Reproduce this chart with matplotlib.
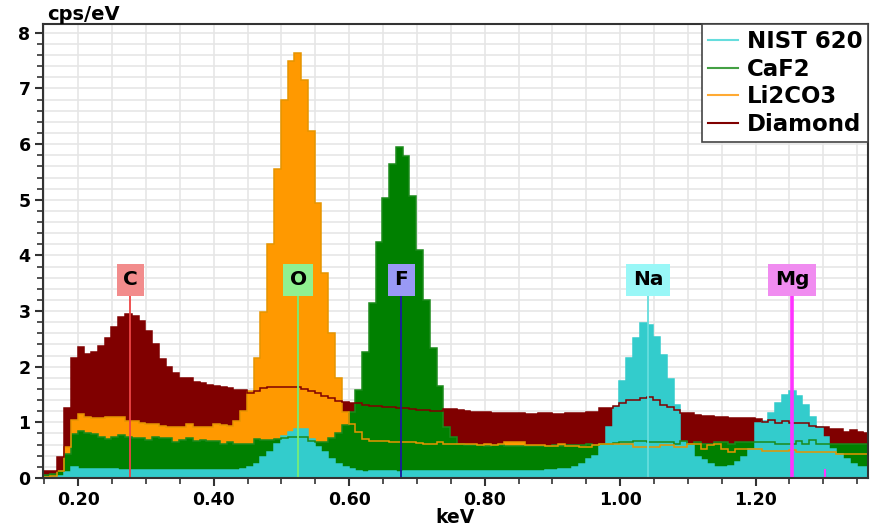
import matplotlib
matplotlib.use('Agg')
import matplotlib.pyplot as plt
from matplotlib.lines import Line2D
from matplotlib.ticker import MultipleLocator, FormatStrFormatter
import numpy as np

# spectrum channels: 10 eV wide, first edge at 0.149 keV
bin_start = 0.149
bin_width = 0.01

nist620 = [0.01, 0.02, 0.04, 0.11, 0.19, 0.17, 0.16, 0.16, 0.17, 0.16,
           0.16, 0.14, 0.15, 0.14, 0.14, 0.14, 0.15, 0.14, 0.14, 0.14,
           0.14, 0.14, 0.14, 0.14, 0.14, 0.14, 0.14, 0.14, 0.15, 0.16,
           0.19, 0.25, 0.37, 0.47, 0.61, 0.76, 0.83, 0.88, 0.88, 0.70,
           0.56, 0.47, 0.35, 0.26, 0.20, 0.16, 0.13, 0.11, 0.12, 0.12,
           0.12, 0.12, 0.11, 0.12, 0.12, 0.12, 0.12, 0.13, 0.12, 0.12,
           0.12, 0.12, 0.12, 0.12, 0.12, 0.12, 0.12, 0.13, 0.12, 0.12,
           0.12, 0.13, 0.13, 0.13, 0.14, 0.14, 0.16, 0.16, 0.19, 0.25,
           0.34, 0.40, 0.60, 0.91, 1.28, 1.74, 2.15, 2.51, 2.78, 2.75,
           2.54, 2.21, 1.78, 1.32, 0.65, 0.59, 0.38, 0.32, 0.25, 0.20,
           0.20, 0.21, 0.29, 0.38, 0.53, 0.98, 1.02, 1.16, 1.34, 1.49,
           1.56, 1.48, 1.31, 1.09, 0.92, 0.74, 0.53, 0.44, 0.35, 0.25,
           0.20, 0.20]

caf2 = [0.05, 0.07, 0.13, 0.44, 0.79, 0.85, 0.80, 0.79, 0.74, 0.70,
        0.73, 0.77, 0.74, 0.71, 0.72, 0.68, 0.73, 0.72, 0.71, 0.65,
        0.69, 0.71, 0.67, 0.68, 0.67, 0.67, 0.62, 0.65, 0.61, 0.61,
        0.61, 0.70, 0.68, 0.68, 0.70, 0.72, 0.74, 0.74, 0.74, 0.67,
        0.65, 0.65, 0.71, 0.80, 0.95, 1.19, 1.58, 2.26, 3.14, 4.25,
        5.04, 5.64, 5.94, 5.78, 5.07, 4.10, 3.20, 2.34, 1.65, 0.92,
        0.74, 0.62, 0.60, 0.59, 0.59, 0.58, 0.59, 0.59, 0.58, 0.58,
        0.57, 0.58, 0.58, 0.58, 0.58, 0.59, 0.58, 0.59, 0.60, 0.60,
        0.61, 0.60, 0.61, 0.61, 0.63, 0.65, 0.65, 0.67, 0.67, 0.65,
        0.65, 0.65, 0.65, 0.62, 0.67, 0.61, 0.64, 0.61, 0.61, 0.65,
        0.65, 0.61, 0.65, 0.65, 0.65, 0.64, 0.64, 0.65, 0.62, 0.62,
        0.62, 0.67, 0.62, 0.68, 0.62, 0.62, 0.62, 0.62, 0.62, 0.62,
        0.62, 0.62]

li2co3 = [0.02, 0.03, 0.12, 0.56, 1.04, 1.15, 1.10, 1.07, 1.07, 1.09,
          1.10, 1.10, 1.03, 1.03, 0.98, 0.97, 0.97, 0.94, 0.92, 0.91,
          0.92, 0.97, 0.92, 0.92, 0.91, 0.97, 0.95, 0.94, 1.03, 1.21,
          1.56, 2.16, 2.99, 4.20, 5.55, 6.79, 7.49, 7.63, 7.15, 6.24,
          4.94, 3.68, 2.61, 1.80, 1.19, 0.97, 0.83, 0.70, 0.67, 0.67,
          0.66, 0.65, 0.65, 0.64, 0.64, 0.63, 0.61, 0.61, 0.64, 0.62,
          0.62, 0.62, 0.61, 0.61, 0.60, 0.61, 0.60, 0.61, 0.64, 0.64,
          0.64, 0.60, 0.59, 0.59, 0.58, 0.58, 0.62, 0.58, 0.57, 0.56,
          0.56, 0.60, 0.61, 0.61, 0.61, 0.61, 0.61, 0.56, 0.56, 0.56,
          0.56, 0.59, 0.59, 0.55, 0.55, 0.61, 0.61, 0.52, 0.59, 0.61,
          0.52, 0.46, 0.52, 0.53, 0.53, 0.52, 0.49, 0.49, 0.49, 0.49,
          0.50, 0.47, 0.47, 0.47, 0.47, 0.47, 0.46, 0.43, 0.43, 0.43,
          0.43, 0.43]

diamond = [0.13, 0.13, 0.37, 1.25, 2.16, 2.36, 2.22, 2.26, 2.37, 2.51,
           2.71, 2.89, 2.94, 2.92, 2.83, 2.65, 2.40, 2.14, 2.00, 1.88,
           1.79, 1.79, 1.73, 1.70, 1.68, 1.66, 1.63, 1.61, 1.59, 1.58,
           1.53, 1.56, 1.61, 1.63, 1.64, 1.64, 1.64, 1.63, 1.60, 1.57,
           1.53, 1.47, 1.43, 1.38, 1.36, 1.34, 1.34, 1.31, 1.29, 1.29,
           1.28, 1.27, 1.26, 1.25, 1.24, 1.23, 1.22, 1.21, 1.21, 1.24,
           1.24, 1.22, 1.20, 1.19, 1.18, 1.18, 1.17, 1.17, 1.16, 1.16,
           1.16, 1.15, 1.15, 1.16, 1.16, 1.15, 1.15, 1.16, 1.16, 1.17,
           1.19, 1.19, 1.25, 1.25, 1.30, 1.34, 1.41, 1.41, 1.43, 1.46,
           1.40, 1.32, 1.27, 1.22, 1.16, 1.16, 1.14, 1.12, 1.12, 1.10,
           1.09, 1.07, 1.08, 1.07, 1.07, 1.06, 1.01, 1.04, 0.99, 1.03,
           0.98, 0.98, 0.98, 0.94, 0.91, 0.91, 0.88, 0.88, 0.83, 0.86,
           0.83, 0.80]

series_names = ['NIST 620', 'CaF2', 'Li2CO3', 'Diamond']
fill_colors = ['#33cccc', '#008000', '#ff9900', '#800000']
line_colors = ['#33cccc', '#1b8a1b', '#e69500', '#800000']
legend_colors = ['#66dddd', '#44a044', '#ffaa33', '#800000']

# element markers (keV)
elements = ['C', 'O', 'F', 'Na', 'Mg']
element_kev = [0.277, 0.525, 0.677, 1.041, 1.254]
line_cols = ['#ee4444', '#77ee77', '#1a1aa0', '#66dddd', '#ff33ff']
box_cols = ['#f28c8c', '#90f090', '#9999f5', '#99f7f7', '#f08cf0']
mg_kb = 1.302

spectra = [nist620, caf2, li2co3, diamond]
edges = bin_start + bin_width * np.arange(len(nist620) + 1)

fig = plt.figure(figsize=(8.73, 5.29), dpi=100)
ax = fig.add_axes([0.0493, 0.0964, 0.9450, 0.8573])

# filled spectra, back to front
for k in [3, 2, 1, 0]:
    ax.stairs(spectra[k], edges, fill=True, color=fill_colors[k], zorder=2 + (3 - k) * 0.1)
# outlines of every spectrum on top of all fills
for k in [0, 1, 2, 3]:
    ax.stairs(spectra[k], edges, baseline=None, color=line_colors[k], lw=1.1, zorder=3)

# element lines and labels
for name, e, lc, bc in zip(elements, element_kev, line_cols, box_cols):
    lw = 2.6 if name == 'Mg' else 1.3
    ax.plot([e, e], [0, 3.31], color=lc, lw=lw, zorder=4)
    ax.text(e, 3.56, name, ha='center', va='center', fontsize=14.5, weight='bold',
            bbox=dict(boxstyle='square,pad=0.32', fc=bc, ec='none'), zorder=5)
ax.plot([mg_kb, mg_kb], [0, 0.15], color='#ff33ff', lw=1.5, zorder=4)

ax.set_xlim(0.148, 1.366)
ax.set_ylim(0, 8.15)

ax.xaxis.set_major_locator(MultipleLocator(0.2))
ax.xaxis.set_minor_locator(MultipleLocator(0.05))
ax.xaxis.set_major_formatter(FormatStrFormatter('%.2f'))
ax.yaxis.set_major_locator(MultipleLocator(1))
ax.yaxis.set_minor_locator(MultipleLocator(0.2))

ax.grid(True, which='both', color='#e6e6e6', lw=1.2, zorder=0)
ax.set_axisbelow(True)

ax.tick_params(axis='both', which='major', direction='out', length=6, width=1.5,
               labelsize=12.5, color='#333333', pad=3)
ax.tick_params(axis='both', which='minor', direction='out', length=4, width=1.2,
               color='#333333')
for lab in ax.get_xticklabels() + ax.get_yticklabels():
    lab.set_fontweight('bold')
for sp in ax.spines.values():
    sp.set_color('#333333')
    sp.set_linewidth(1.5)
    sp.set_zorder(6)

fig.text(0.054, 0.972, 'cps/eV', fontsize=14, weight='bold', va='center', ha='left')
fig.text(0.521, 0.021, 'keV', fontsize=13.5, weight='bold', va='center', ha='center')

handles = [Line2D([], [], color=c, lw=1.5) for c in legend_colors]
leg = ax.legend(handles, series_names, loc='upper right',
                prop={'weight': 'bold', 'size': 16.5}, frameon=True, fancybox=False,
                edgecolor='#444444', framealpha=1, borderaxespad=0.0,
                handlelength=1.3, handletextpad=0.4, labelspacing=0.2, borderpad=0.25)
leg.get_frame().set_linewidth(1.2)
leg.set_zorder(7)

fig.savefig('out.png', dpi=100)
